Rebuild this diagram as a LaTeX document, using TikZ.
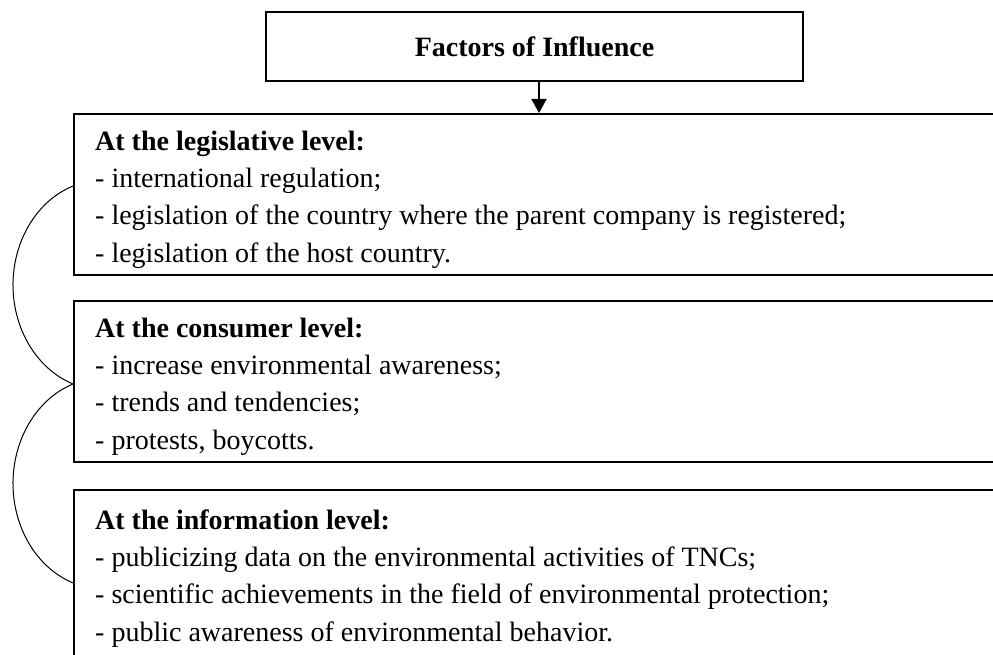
\documentclass[tikz,border=0pt]{standalone}
\usepackage{fontspec}
\setmainfont{Liberation Serif}
\usetikzlibrary{arrows.meta}
\begin{document}
\begin{tikzpicture}[x=1pt,y=-1pt,
  lvlbox/.style={draw, line width=1.8pt, rectangle, anchor=north west, inner sep=0pt},
  lvltext/.style={anchor=base west, align=left, inner sep=0pt, font=\fontsize{28}{37.2}\selectfont},
  brace/.style={line width=1pt}]
\useasboundingbox (0,0) rectangle (993,655);
\clip (0,0) rectangle (993,655);
% title
\node[draw, line width=1.8pt, minimum width=537pt, minimum height=69pt, inner sep=0pt,
      font=\fontsize{28}{34}\selectfont\bfseries] (title) at (534.5,46.5) {Factors of Influence};
% boxes
\node[lvlbox, minimum width=960pt, minimum height=161pt] (box1) at (73,113) {};
\node[lvlbox, minimum width=960pt, minimum height=161pt] (box2) at (73,300) {};
\node[lvlbox, minimum width=960pt, minimum height=200pt] (box3) at (73,489) {};
% texts (anchored at the baseline of the last line)
\node[lvltext] (t1) at (95,262) {\textbf{At the legislative level:}\\
- international regulation;\\
- legislation of the country where the parent company is registered;\\
- legislation of the host country.};
\node[lvltext] (t2) at (95,449) {\textbf{At the consumer level:}\\
- increase environmental awareness;\\
- trends and tendencies;\\
- protests, boycotts.};
\node[lvltext] (t3) at (95,641) {\textbf{At the information level:}\\
- publicizing data on the environmental activities of TNCs;\\
- scientific achievements in the field of environmental protection;\\
- public awareness of environmental behavior.};
% arrow
\coordinate (ax) at (539,0);
\draw[line width=1.5pt, -{Triangle[length=14pt,width=15pt]}] (title.south -| ax) -- (box1.north -| ax);
% braces
\coordinate (a1) at (73,186);
\coordinate (a2) at (73,384);
\draw[brace] (a1) arc[start angle=250.53, end angle=109.47, x radius=90, y radius=105];
\draw[brace] (a2) arc[start angle=250.53, end angle=109.47, x radius=90, y radius=105.5];
\end{tikzpicture}
\end{document}
